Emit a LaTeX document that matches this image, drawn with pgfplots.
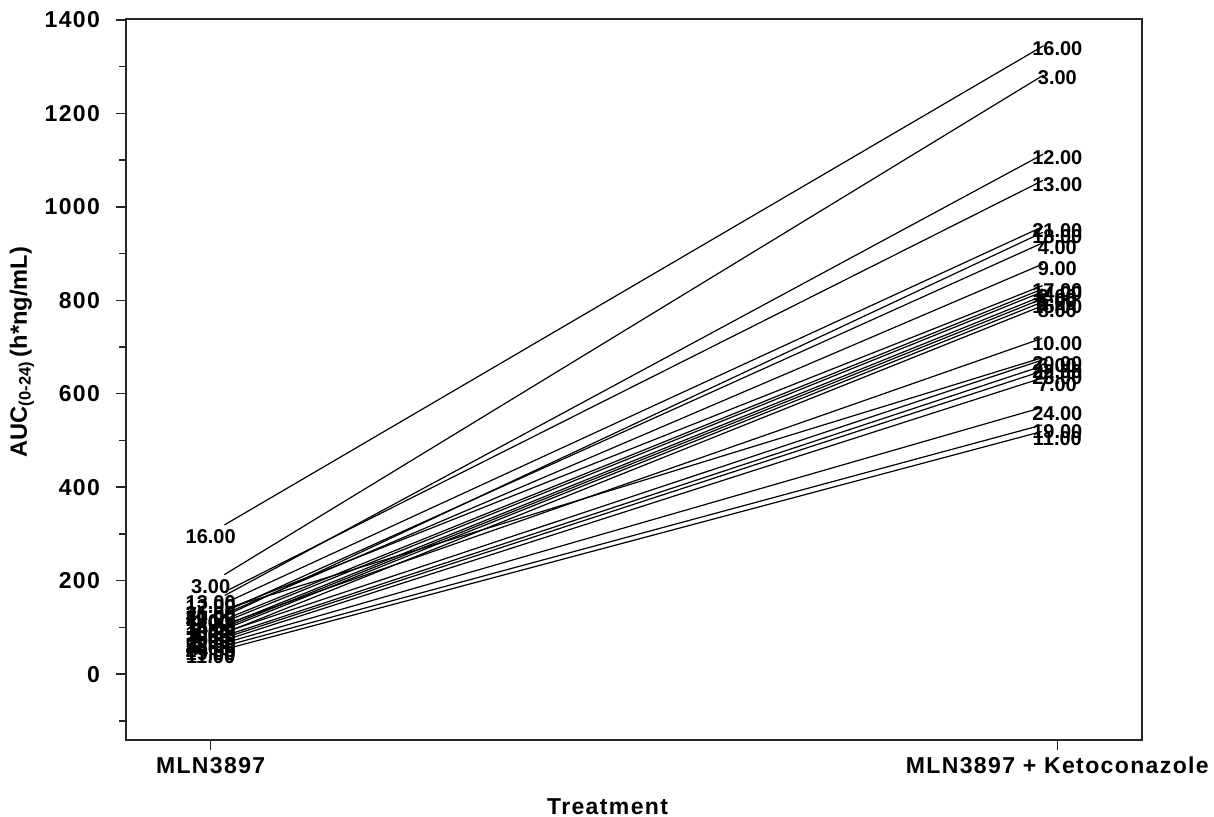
\documentclass[border=0pt]{standalone}
\usepackage{fontspec}
\setmainfont{Liberation Sans}
\newfontfamily\spaced[LetterSpace=6]{Liberation Sans}
\usepackage{pgfplots}
\pgfplotsset{compat=1.18}
\begin{document}
\begin{tikzpicture}[
  ln/.style={black, line width=0.6pt, shorten <=8pt, shorten >=8pt},
  lL/.style={pos=0, anchor=center, inner sep=0pt, yshift=-2pt, font=\fontsize{10}{12}\selectfont\bfseries},
  lR/.style={pos=1, anchor=center, inner sep=0pt, yshift=-5.5pt, font=\fontsize{10}{12}\selectfont\bfseries}]
\path[use as bounding box] (0,0) rectangle (607pt,408.5pt);
\begin{axis}[at={(63pt,38.5pt)}, anchor=south west, scale only axis,
  width=508pt, height=360.5pt,
  xmin=-0.1, xmax=1.1, ymin=-141, ymax=1402,
  axis line style={black!85, line width=0.9pt},
  xtick={0,1}, xticklabels={MLN3897, MLN3897 + Ketoconazole},
  ytick={0,200,...,1400}, minor ytick={-100,100,...,1300},
  tick align=outside, tick pos=left,
  major tick length=5pt, minor tick length=3.5pt,
  tick style={black!85, line width=0.7pt},
  ticklabel style={font=\spaced\fontsize{11.5}{13}\selectfont\bfseries},
  /pgf/number format/assume math mode=true,
  /pgf/number format/1000 sep={},
  scaled y ticks=false,
  yticklabel style={xshift=-4.5pt},
  xlabel={Treatment},
  ylabel={AUC\textsubscript{(0-24)}\,(h*ng/mL)},
  xlabel style={font=\spaced\fontsize{11.5}{13}\selectfont\bfseries, at={(axis description cs:0.474,0)}, anchor=center, yshift=-33.5pt},
  ylabel style={font=\fontsize{11.8}{13}\selectfont\bfseries, at={(axis description cs:-0.1024,0.538)}, anchor=center},
  clip=false
]
\addplot[ln] coordinates {(0,302) (1,1362)} node[lL]{16.00} node[lR]{16.00};
\addplot[ln] coordinates {(0,195) (1,1300)} node[lL]{3.00} node[lR]{3.00};
\addplot[ln] coordinates {(0,152) (1,1129)} node[lL]{12.00} node[lR]{12.00};
\addplot[ln] coordinates {(0,161) (1,1072)} node[lL]{13.00} node[lR]{13.00};
\addplot[ln] coordinates {(0,138) (1,972)} node[lL]{21.00} node[lR]{21.00};
\addplot[ln] coordinates {(0,110) (1,960)} node[lL]{18.00} node[lR]{18.00};
\addplot[ln] coordinates {(0,120) (1,937)} node[lL]{4.00} node[lR]{4.00};
\addplot[ln] coordinates {(0,116) (1,891)} node[lL]{9.00} node[lR]{9.00};
\addplot[ln] coordinates {(0,125) (1,844)} node[lL]{17.00} node[lR]{17.00};
\addplot[ln] coordinates {(0,105) (1,837)} node[lL]{14.00} node[lR]{14.00};
\addplot[ln] coordinates {(0,100) (1,831)} node[lL]{2.00} node[lR]{2.00};
\addplot[ln] coordinates {(0,92) (1,822)} node[lL]{5.00} node[lR]{5.00};
\addplot[ln] coordinates {(0,88) (1,816)} node[lL]{1.00} node[lR]{1.00};
\addplot[ln] coordinates {(0,84) (1,809)} node[lL]{15.00} node[lR]{15.00};
\addplot[ln] coordinates {(0,76) (1,801)} node[lL]{8.00} node[lR]{8.00};
\addplot[ln] coordinates {(0,96) (1,730)} node[lL]{10.00} node[lR]{10.00};
\addplot[ln] coordinates {(0,130) (1,687)} node[lL]{20.00} node[lR]{20.00};
\addplot[ln] coordinates {(0,80) (1,683)} node[lL]{6.00} node[lR]{6.00};
\addplot[ln] coordinates {(0,72) (1,670)} node[lL]{22.00} node[lR]{22.00};
\addplot[ln] coordinates {(0,68) (1,659)} node[lL]{23.00} node[lR]{23.00};
\addplot[ln] coordinates {(0,63) (1,644)} node[lL]{7.00} node[lR]{7.00};
\addplot[ln] coordinates {(0,58) (1,580)} node[lL]{24.00} node[lR]{24.00};
\addplot[ln] coordinates {(0,52) (1,542)} node[lL]{19.00} node[lR]{19.00};
\addplot[ln] coordinates {(0,45) (1,528)} node[lL]{11.00} node[lR]{11.00};
\end{axis}
\end{tikzpicture}
\end{document}
